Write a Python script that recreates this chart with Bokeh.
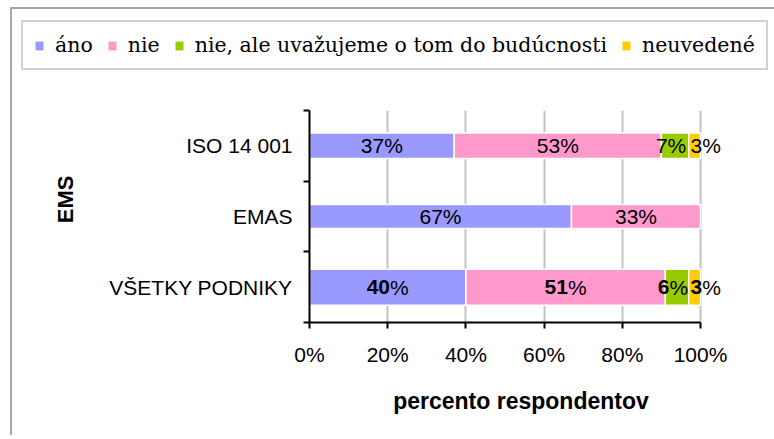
from bokeh.plotting import figure
from bokeh.layouts import column
from bokeh.models import Range1d, FixedTicker, Legend, LegendItem, ColumnDataSource, Title
from bokeh.core.properties import value
from bokeh.embed import file_html
from bokeh.resources import INLINE

# ---- data ----
categories = ["ISO 14 001", "EMAS", "VŠETKY PODNIKY"]
series_names = ["áno", "nie", "nie, ale uvažujeme o tom do budúcnosti", "neuvedené"]
ano = [37, 67, 40]
nie = [53, 33, 51]
nie_ale = [7, 0, 6]
neuvedene = [3, 0, 3]
x_ticks = [0, 20, 40, 60, 80, 100]
x_tick_labels = ["0%", "20%", "40%", "60%", "80%", "100%"]
x_title = "percento respondentov"
y_title = "EMS"

# ---- styles ----
colors = ["#9999FF", "#FF99CC", "#99CC00", "#FFCC00"]
bar_heights = [0.36, 0.34, 0.51]
label_offsets = [0, 0, -4, 11]
bold_rows = [False, False, True]
sans = "Liberation Sans"
serif = "DejaVu Serif"
LBL_FS = 21
DIGIT_W = 0.556 * LBL_FS
PCT_W = 0.889 * LBL_FS

AXIS_W = 391          # pixels for 0..100 %
FRAME_W = 423         # frame extended so outside labels are not clipped
x_end = 100 * FRAME_W / AXIS_W

p = figure(frame_width=FRAME_W, frame_height=212,
           min_border_left=297, min_border_right=40,
           min_border_top=31, min_border_bottom=113,
           x_range=Range1d(0, x_end), y_range=Range1d(3, 0),
           output_backend="svg", toolbar_location=None)
p.frame_align = False
p.outline_line_color = None
p.background_fill_color = "white"
p.border_fill_color = "white"

# legend strip (its own figure so the legend is inside that figure's frame)
lg = figure(width=762, height=70, min_border=0, x_axis_type=None, y_axis_type=None,
            x_range=Range1d(0, x_end), y_range=Range1d(100, 101),
            output_backend="svg", toolbar_location=None)
lg.frame_align = False
lg.outline_line_color = None
lg.grid.visible = False
lg.background_fill_color = "white"
lg.border_fill_color = "white"

ys = [i + 0.5 for i in range(len(categories))]
all_series = [ano, nie, nie_ale, neuvedene]
cum = [0.0] * len(categories)
items = []
for si, vals in enumerate(all_series):
    lefts, rights, yy, hh = [], [], [], []
    tx, ty, num, pct, st, off = [], [], [], [], [], []
    for ci, v in enumerate(vals):
        if v <= 0:
            continue
        l = cum[ci]
        r = l + v
        lefts.append(l); rights.append(r); yy.append(ys[ci]); hh.append(bar_heights[ci])
        n = str(v)
        tx.append((l + r) / 2); ty.append(ys[ci]); num.append(n); pct.append("%")
        st.append("bold" if bold_rows[ci] else "normal")
        off.append(label_offsets[si] + (len(n) * DIGIT_W - PCT_W) / 2)
        cum[ci] = r
    src = ColumnDataSource(dict(y=yy, left=lefts, right=rights, h=hh))
    p.hbar(y="y", left="left", right="right", height="h", source=src,
           fill_color=colors[si], line_color="white", line_width=1.5)
    # same data in the legend strip (outside its visible range), used for the legend key
    lr = lg.hbar(y="y", left="left", right="right", height="h", source=src,
                 fill_color=colors[si], line_color=None)
    items.append(LegendItem(label=value(series_names[si]), renderers=[lr]))
    tsrc = ColumnDataSource(dict(x=tx, y=ty, num=num, pct=pct, style=st, off=off))
    p.text(x="x", y="y", text="num", source=tsrc, text_font=value(sans),
           text_font_size=value(f"{LBL_FS}px"), text_font_style="style",
           text_align="right", text_baseline="middle", text_color="black",
           x_offset="off")
    p.text(x="x", y="y", text="pct", source=tsrc, text_font=value(sans),
           text_font_size=value(f"{LBL_FS}px"), text_font_style="normal",
           text_align="left", text_baseline="middle", text_color="black",
           x_offset="off")

# ---- axes ----
xa = p.xaxis[0]
xa.bounds = (0, 100)
xa.ticker = FixedTicker(ticks=x_ticks, minor_ticks=[])
xa.major_label_overrides = {t: l for t, l in zip(x_ticks, x_tick_labels)}
xa.major_label_text_font = sans
xa.major_label_text_font_size = "21px"
xa.major_label_text_color = "black"
xa.major_tick_out = 6
xa.major_tick_in = 0
xa.major_tick_line_width = 2
xa.major_tick_line_color = "black"
xa.axis_line_width = 2
xa.axis_line_color = "black"
xa.major_label_standoff = 14
xa.axis_label = x_title
xa.axis_label_text_font = sans
xa.axis_label_text_font_size = "23px"
xa.axis_label_text_font_style = "bold"
xa.axis_label_text_color = "black"
xa.axis_label_standoff = 19

ya = p.yaxis[0]
ya.ticker = FixedTicker(ticks=ys, minor_ticks=[0, 1, 2, 3])
ya.major_label_overrides = {y: c for y, c in zip(ys, categories)}
ya.major_label_text_font = sans
ya.major_label_text_font_size = "21px"
ya.major_label_text_color = "black"
ya.major_tick_line_color = None
ya.major_tick_out = 0
ya.major_tick_in = 0
ya.minor_tick_out = 6
ya.minor_tick_in = 0
ya.minor_tick_line_color = "black"
ya.minor_tick_line_width = 2
ya.axis_line_width = 2
ya.axis_line_color = "black"
ya.major_label_standoff = 11

p.add_layout(Title(text=y_title, align="right", offset=65, standoff=57,
                   text_font=sans, text_font_size="22px", text_font_style="bold",
                   text_color="black"), "left")

p.ygrid.visible = False
p.xgrid.ticker = FixedTicker(ticks=x_ticks[1:])
p.xgrid.grid_line_color = "#c2c2c2"
p.xgrid.grid_line_width = 2

# ---- legend ----
legend = Legend(items=items, orientation="horizontal", location=(9, 9), margin=0,
                padding=11, spacing=14, label_standoff=11,
                glyph_width=10, glyph_height=11,
                border_line_color="#a6a6a6", border_line_width=2,
                label_text_font=serif, label_text_font_size="20.5px",
                label_text_color="black", background_fill_color="white",
                background_fill_alpha=1)
lg.add_layout(legend, "center")

layout = column(lg, p, spacing=0)
layout.styles = {"border-left": "2px solid #a6a6a6", "border-top": "2px solid #a6a6a6",
                 "margin-left": "10px", "margin-top": "7px"}

open("out.html", "w").write(file_html(layout, INLINE))
